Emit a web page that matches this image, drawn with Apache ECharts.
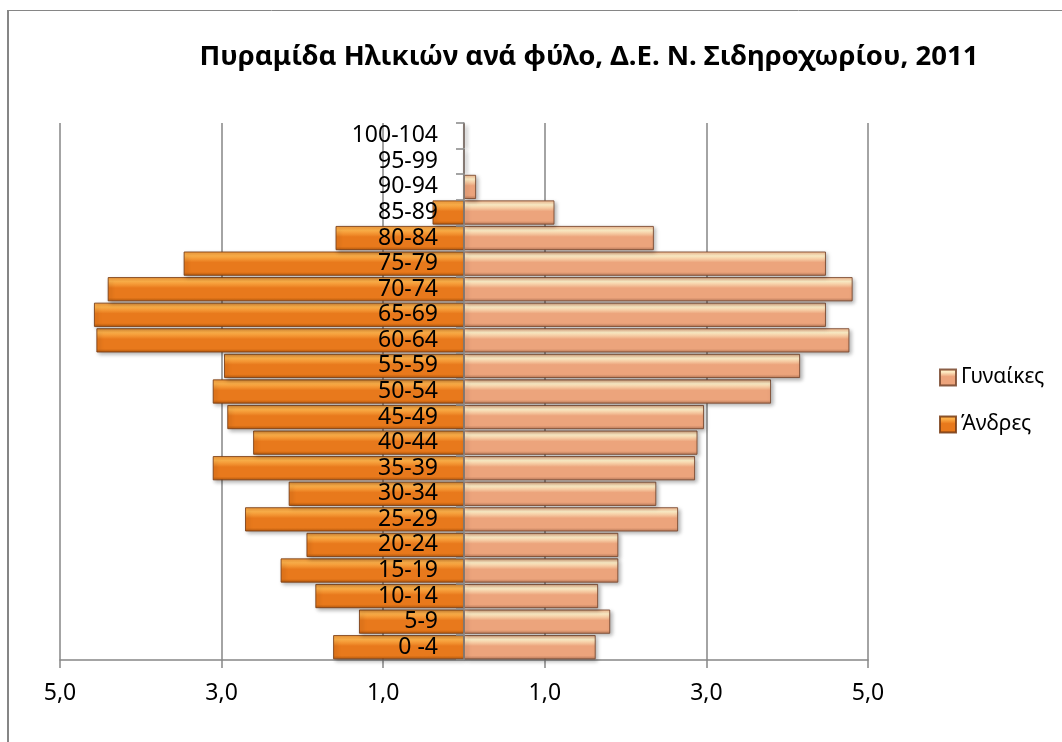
<!DOCTYPE html>
<html>
<head>
<meta charset="utf-8">
<script src="https://cdn.jsdelivr.net/npm/echarts@6/dist/echarts.min.js"></script>
<style>
  html, body { margin: 0; padding: 0; background: #fff; }
  #chart { width: 1062px; height: 742px; }
</style>
</head>
<body>
<div id="chart"></div>
<script>
// ηλικιακές ομάδες, από κάτω προς τα πάνω
const ageGroups = ["0 -4", "5-9", "10-14", "15-19", "20-24", "25-29", "30-34",
  "35-39", "40-44", "45-49", "50-54", "55-59", "60-64", "65-69", "70-74",
  "75-79", "80-84", "85-89", "90-94", "95-99", "100-104"];

// ποσοστά (%)
const men = [1.62, 1.30, 1.84, 2.27, 1.95, 2.71, 2.17, 3.11, 2.61, 2.93, 3.11,
  2.97, 4.55, 4.58, 4.41, 3.47, 1.59, 0.39, 0, 0, 0];
const women = [1.63, 1.81, 1.66, 1.91, 1.91, 2.65, 2.38, 2.86, 2.89, 2.97, 3.80,
  4.16, 4.77, 4.48, 4.81, 4.48, 2.35, 1.12, 0.15, 0, 0];

const xTicks = [-5, -3, -1, 1, 3, 5];

const FONT = "Noto Sans";

const chart = echarts.init(document.getElementById("chart"));

// ανάγλυφο χρώμα μπάρας
const bevel = (edge, light, main, dark) =>
  new echarts.graphic.LinearGradient(0, 0, 0, 1, [
    { offset: 0, color: edge },
    { offset: 0.18, color: light },
    { offset: 0.45, color: main },
    { offset: 0.85, color: main },
    { offset: 1, color: dark },
  ]);

const womenColor = bevel("#f3b48c", "#fff0c8", "#eca47c", "#b97a5a");
const menColor = bevel("#f29a3c", "#ffb24a", "#e8791c", "#b4580c");

const fmt = (v) => Math.abs(v).toFixed(1).replace(".", ",");

const GRID_W = 1062 - 60 - 194;

const options = {
  animation: false,
  textStyle: { fontFamily: FONT },
  title: {
    text: "Πυραμίδα Ηλικιών ανά φύλο, Δ.Ε. Ν. Σιδηροχωρίου, 2011",
    left: 584,
    top: 38,
    textAlign: "center",
    textStyle: { fontFamily: FONT, fontSize: 27.5, fontWeight: "bold", color: "#000" },
  },
  graphic: [
    // πλαίσιο
    { type: "line", shape: { x1: 8, y1: 10.5, x2: 1062, y2: 10.5 }, style: { stroke: "#868686", lineWidth: 1 } },
    { type: "line", shape: { x1: 8, y1: 10, x2: 8, y2: 742 }, style: { stroke: "#868686", lineWidth: 2 } },
  ],
  legend: {
    orient: "vertical",
    left: 934,
    top: 362,
    itemWidth: 16,
    itemHeight: 16,
    itemGap: 26,
    icon: "rect",
    data: ["Γυναίκες", "Άνδρες"],
    textStyle: { fontFamily: FONT, fontSize: 21, color: "#000" },
  },
  grid: { left: 60, right: 194, top: 123, bottom: 82, containLabel: false, outerBoundsMode: "none" },
  xAxis: {
    type: "value",
    min: -5,
    max: 5,
    interval: 2,
    axisLine: { show: true, onZero: false, lineStyle: { color: "#868686", width: 1.5 } },
    axisTick: { show: true, length: 8, lineStyle: { color: "#868686", width: 1.5 } },
    axisLabel: {
      margin: 22,
      fontSize: 23,
      color: "#000",
      formatter: (v) => (xTicks.includes(v) ? fmt(v) : ""),
    },
    splitLine: { show: true, lineStyle: { color: "#868686", width: 1.5 } },
  },
  yAxis: {
    type: "category",
    data: ageGroups,
    z: 10,
    position: "left",
    offset: -GRID_W / 2,
    axisLine: { show: true, onZero: false, lineStyle: { color: "#868686", width: 1.5 } },
    axisTick: { show: true, length: 8, alignWithLabel: false, lineStyle: { color: "#868686", width: 1.5 } },
    axisLabel: { interval: 0, margin: 26, fontSize: 23, color: "#000" },
  },
  series: [
    {
      name: "Άνδρες",
      type: "bar",
      data: men.map((v) => -v),
      barCategoryGap: "5%",
      barGap: "-100%",
      itemStyle: {
        color: menColor,
        borderColor: "rgba(120,60,20,0.85)",
        borderWidth: 1,
        shadowColor: "rgba(0,0,0,0.3)",
        shadowBlur: 4,
        shadowOffsetX: 2,
        shadowOffsetY: 2,
      },
    },
    {
      name: "Γυναίκες",
      type: "bar",
      data: women,
      barCategoryGap: "5%",
      barGap: "-100%",
      itemStyle: {
        color: womenColor,
        borderColor: "rgba(120,70,45,0.85)",
        borderWidth: 1,
        shadowColor: "rgba(0,0,0,0.3)",
        shadowBlur: 4,
        shadowOffsetX: 2,
        shadowOffsetY: 2,
      },
    },
  ],
};

chart.setOption(options);
</script>
</body>
</html>
